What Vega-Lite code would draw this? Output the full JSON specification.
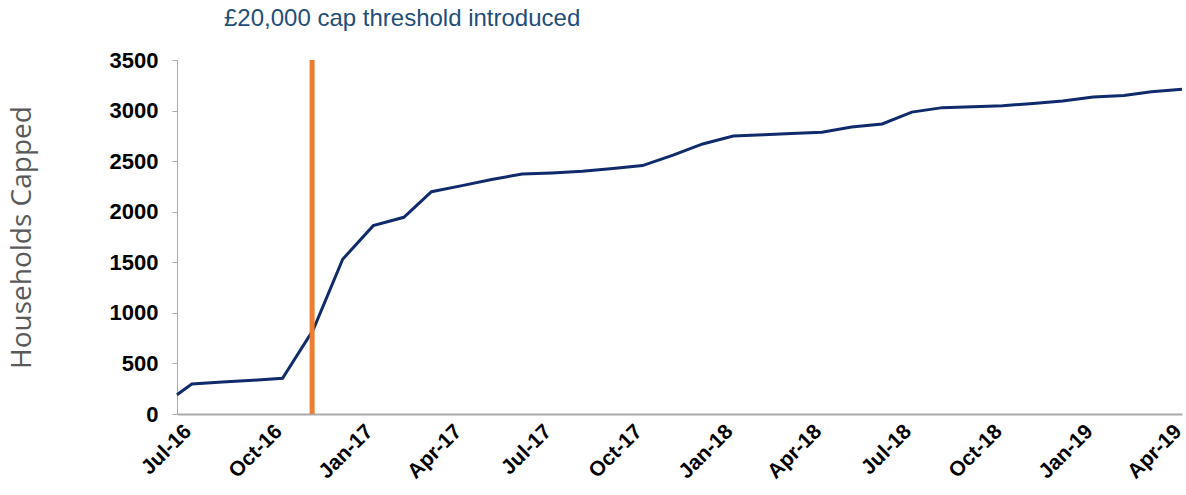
{
  "$schema": "https://vega.github.io/schema/vega-lite/v6.json",
  "autosize": {"type": "none"},
  "width": 1005,
  "height": 354,
  "padding": {"left": 177, "top": 60, "right": 4, "bottom": 81},
  "background": "white",
  "config": {"view": {"stroke": null}, "font": "Liberation Sans"},
  "title": {
    "text": "£20,000 cap threshold introduced",
    "anchor": "start",
    "frame": "group",
    "dx": 47,
    "offset": -1,
    "baseline": "alphabetic",
    "fontSize": 24,
    "fontWeight": "normal",
    "color": "#1F4E79",
    "font": "Liberation Sans"
  },
  "datasets": {
    "capped": [
      {"date": "2016-06-16", "households": 190},
      {"date": "2016-07-01", "households": 297},
      {"date": "2016-08-01", "households": 316},
      {"date": "2016-09-01", "households": 334},
      {"date": "2016-10-01", "households": 353},
      {"date": "2016-11-01", "households": 830},
      {"date": "2016-12-01", "households": 1530},
      {"date": "2017-01-01", "households": 1862},
      {"date": "2017-02-01", "households": 1945},
      {"date": "2017-03-01", "households": 2198},
      {"date": "2017-04-01", "households": 2258},
      {"date": "2017-05-01", "households": 2318},
      {"date": "2017-06-01", "households": 2373},
      {"date": "2017-07-01", "households": 2383},
      {"date": "2017-08-01", "households": 2400},
      {"date": "2017-09-01", "households": 2428},
      {"date": "2017-10-01", "households": 2456},
      {"date": "2017-11-01", "households": 2560},
      {"date": "2017-12-01", "households": 2670},
      {"date": "2018-01-01", "households": 2749},
      {"date": "2018-02-01", "households": 2760},
      {"date": "2018-03-01", "households": 2773},
      {"date": "2018-04-01", "households": 2785},
      {"date": "2018-05-01", "households": 2838},
      {"date": "2018-06-01", "households": 2868},
      {"date": "2018-07-01", "households": 2985},
      {"date": "2018-08-01", "households": 3029},
      {"date": "2018-09-01", "households": 3037},
      {"date": "2018-10-01", "households": 3048},
      {"date": "2018-11-01", "households": 3070},
      {"date": "2018-12-01", "households": 3095},
      {"date": "2019-01-01", "households": 3135},
      {"date": "2019-02-01", "households": 3150},
      {"date": "2019-03-01", "households": 3185},
      {"date": "2019-04-01", "households": 3210}
    ],
    "event": [{"date": "2016-10-31", "label": "£20,000 cap threshold introduced"}]
  },
  "layer": [
    {
      "data": {"name": "capped"},
      "mark": {"type": "line", "color": "#0F2B6B", "strokeWidth": 3, "interpolate": "linear"},
      "encoding": {
        "x": {
          "field": "date",
          "type": "temporal",
          "scale": {"domain": [{"year": 2016, "month": 6, "date": 16}, {"year": 2019, "month": 4, "date": 1}], "nice": false},
          "axis": {
            "title": null,
            "values": [
              {"year": 2016, "month": 7, "date": 1},
              {"year": 2016, "month": 10, "date": 1},
              {"year": 2017, "month": 1, "date": 1},
              {"year": 2017, "month": 4, "date": 1},
              {"year": 2017, "month": 7, "date": 1},
              {"year": 2017, "month": 10, "date": 1},
              {"year": 2018, "month": 1, "date": 1},
              {"year": 2018, "month": 4, "date": 1},
              {"year": 2018, "month": 7, "date": 1},
              {"year": 2018, "month": 10, "date": 1},
              {"year": 2019, "month": 1, "date": 1},
              {"year": 2019, "month": 4, "date": 1}
            ],
            "format": "%b-%y",
            "labelAngle": -45,
            "labelAlign": "right",
            "labelBaseline": "middle",
            "labelFontSize": 21,
            "labelFontWeight": "bold",
            "labelColor": "#000000",
            "labelPadding": 14,
            "labelOffset": -4,
            "labelOverlap": false,
            "labelFlush": false,
            "ticks": false,
            "grid": false,
            "domainColor": "#ABABAB",
            "domainWidth": 2
          }
        },
        "y": {
          "field": "households",
          "type": "quantitative",
          "scale": {"domain": [0, 3500], "nice": false},
          "axis": {
            "title": "Households Capped",
            "titleFontSize": 28,
            "titleFontWeight": "normal",
            "titleColor": "#595959",
            "titleFont": "Open Sans",
            "titleX": -155,
            "titleY": 177,
            "titleAngle": -90,
            "titleAlign": "center",
            "titleBaseline": "middle",
            "values": [0, 500, 1000, 1500, 2000, 2500, 3000, 3500],
            "format": "d",
            "labelFontSize": 22,
            "labelFontWeight": "bold",
            "labelColor": "#000000",
            "labelPadding": 14,
            "tickSize": 5,
            "tickColor": "#ABABAB",
            "domainColor": "#ABABAB",
            "grid": false
          }
        }
      }
    },
    {
      "data": {"name": "event"},
      "mark": {"type": "rule", "color": "#ED7D31", "strokeWidth": 5},
      "encoding": {"x": {"field": "date", "type": "temporal"}}
    }
  ]
}
